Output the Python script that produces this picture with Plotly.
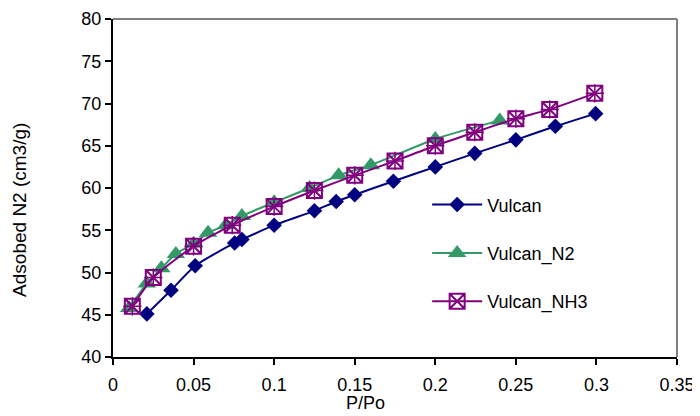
import plotly.graph_objects as go

vulcan_x = [0.021, 0.036, 0.051, 0.0755, 0.080, 0.100, 0.125, 0.1385, 0.150, 0.174, 0.200, 0.2245, 0.250, 0.2745, 0.2995]
vulcan_y = [45.1, 47.9, 50.8, 53.5, 53.9, 55.6, 57.3, 58.4, 59.2, 60.8, 62.5, 64.1, 65.7, 67.3, 68.8]

n2_x = [0.010, 0.021, 0.030, 0.039, 0.050, 0.059, 0.070, 0.080, 0.100, 0.122, 0.140, 0.160, 0.200, 0.240]
n2_y = [45.8, 48.7, 50.5, 52.2, 53.4, 54.7, 55.6, 56.7, 58.3, 60.0, 61.5, 62.7, 65.8, 68.0]

nh3_x = [0.012, 0.025, 0.050, 0.074, 0.100, 0.125, 0.150, 0.175, 0.200, 0.2245, 0.250, 0.271, 0.299]
nh3_y = [46.0, 49.4, 53.1, 55.6, 57.8, 59.7, 61.5, 63.2, 65.0, 66.6, 68.2, 69.3, 71.2]

x_ticks = [0, 0.05, 0.1, 0.15, 0.2, 0.25, 0.3, 0.35]
x_tick_text = ["0", "0.05", "0.1", "0.15", "0.2", "0.25", "0.3", "0.35"]
y_ticks = [40, 45, 50, 55, 60, 65, 70, 75, 80]

NAVY = "#000080"
GREEN = "#339966"
PURPLE = "#800080"
FONT = "Liberation Sans, Arial, sans-serif"
FS = 18

fig = go.Figure()
fig.add_trace(go.Scatter(
    x=vulcan_x, y=vulcan_y, name="Vulcan", mode="lines+markers",
    line=dict(color=NAVY, width=2, shape="spline", smoothing=0.6),
    marker=dict(symbol="diamond", size=12, color=NAVY, line=dict(width=0)),
    legendgroup="a"))
fig.add_trace(go.Scatter(
    x=n2_x, y=n2_y, name="Vulcan_N2", mode="lines+markers",
    line=dict(color=GREEN, width=2, shape="spline", smoothing=0.6),
    marker=dict(symbol="triangle-up", size=16, color=GREEN, line=dict(width=0)),
    legendgroup="b"))
fig.add_trace(go.Scatter(
    x=nh3_x, y=nh3_y, name="Vulcan_NH3", mode="lines+markers",
    line=dict(color=PURPLE, width=2, shape="spline", smoothing=0.6),
    marker=dict(symbol="square-x-open", size=15, color=PURPLE, line=dict(width=2)),
    legendgroup="c"))
fig.add_trace(go.Scatter(
    x=nh3_x, y=nh3_y, name="Vulcan_NH3", mode="markers", showlegend=False,
    marker=dict(symbol="cross-thin-open", size=13, color=PURPLE, line=dict(width=1.5, color=PURPLE)),
    legendgroup="c", hoverinfo="skip"))

fig.update_layout(
    width=692, height=408,
    margin=dict(l=105, r=23, t=11, b=59),
    paper_bgcolor="white", plot_bgcolor="white",
    font=dict(family=FONT, size=FS, color="black"),
    showlegend=True,
    legend=dict(x=0.557, y=0.505, xanchor="left", yanchor="top",
                bgcolor="rgba(0,0,0,0)", font=dict(size=FS, family=FONT),
                tracegroupgap=22, traceorder="grouped", itemwidth=50),
    xaxis=dict(range=[0, 0.35], tickvals=x_ticks, ticktext=x_tick_text,
               showgrid=False, zeroline=False, showline=True, linecolor="black", linewidth=2,
               ticks="outside", ticklen=6, tickwidth=2, tickcolor="black",
               ticklabelstandoff=4,
               tickfont=dict(size=FS, family=FONT), automargin=False),
    yaxis=dict(range=[40, 80], tickvals=y_ticks,
               showgrid=False, zeroline=False, showline=True, linecolor="black", linewidth=2,
               ticks="outside", ticklen=6, tickwidth=2, tickcolor="black",
               tickfont=dict(size=FS, family=FONT), automargin=False),
    annotations=[
        dict(text="Adsobed N2 (cm3/g)", textangle=-90, xref="paper", yref="paper",
             x=-0.165, y=0.435, xanchor="center", yanchor="middle", showarrow=False,
             font=dict(size=19, family=FONT)),
        dict(text="P/Po", xref="paper", yref="paper",
             x=0.447, y=-0.136, xanchor="center", yanchor="middle", showarrow=False,
             font=dict(size=FS, family=FONT)),
    ],
    shapes=[
        dict(type="line", xref="paper", yref="paper", x0=0, x1=1, y0=1, y1=1,
             line=dict(color="#808080", width=2)),
        dict(type="line", xref="paper", yref="paper", x0=1, x1=1, y0=0, y1=1,
             line=dict(color="#808080", width=2)),
    ],
)

fig.write_html("out.html")
